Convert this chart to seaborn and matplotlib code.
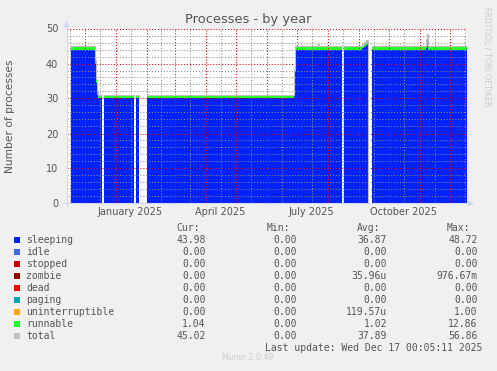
import numpy as np
import pandas as pd
import matplotlib
matplotlib.use('Agg')
import matplotlib.pyplot as plt
from matplotlib.lines import Line2D
from matplotlib.patches import Polygon, Rectangle
import seaborn as sns

# step samples: each value holds until the next date, NaN = no data
dates = ['2024-11-17', '2024-12-11', '2024-12-12', '2024-12-13', '2024-12-14',
         '2024-12-18', '2024-12-20', '2025-01-19', '2025-01-21', '2025-01-24',
         '2025-02-01', '2025-06-28', '2025-06-29', '2025-07-22', '2025-07-23',
         '2025-08-15', '2025-08-17', '2025-09-04', '2025-09-06', '2025-09-08',
         '2025-09-10', '2025-09-11', '2025-09-14', '2025-11-07', '2025-11-08',
         '2025-11-09']
end_date = '2025-12-18'
nan = np.nan
sleeping = [44.0, 40.0, 34.5, 31.0, 30.0,
            nan, 30.0, nan, 30.0, nan,
            30.0, 37.0, 44.0, 44.0, 44.0,
            nan, 44.0, 44.3, 44.8, 45.2,
            0.0, nan, 44.0, 44.5, 45.0,
            44.0]
runnable = [1.1, 1.1, 1.1, 1.1, 1.1,
            nan, 1.1, nan, 1.1, nan,
            1.1, 1.1, 1.1, 1.5, 1.1,
            nan, 1.1, 1.2, 1.3, 1.4,
            0.0, nan, 1.1, 2.0, 3.0,
            1.1]
total = [45.1, 41.1, 35.6, 32.1, 31.1,
         nan, 31.1, nan, 31.1, nan,
         31.1, 38.1, 45.1, 45.5, 45.1,
         nan, 45.1, 45.5, 46.1, 46.6,
         0.0, nan, 45.1, 47.0, 48.5,
         45.1]

x_start, x_end = '2024-11-13', '2025-12-18'
grid_major = ['2024-12-01', '2025-01-01', '2025-02-01', '2025-03-01', '2025-04-01',
              '2025-05-01', '2025-06-01', '2025-07-01', '2025-08-01', '2025-09-01',
              '2025-10-01', '2025-11-01', '2025-12-01']
grid_minor = ['2024-11-16', '2024-12-16', '2025-01-16', '2025-02-15', '2025-03-16',
              '2025-04-16', '2025-05-16', '2025-06-16', '2025-07-16', '2025-08-16',
              '2025-09-16', '2025-10-16', '2025-11-16', '2025-12-16']
month_label_dates = ['2025-01-16', '2025-04-16', '2025-07-16', '2025-10-16']
month_labels = ['January 2025', 'April 2025', 'July 2025', 'October 2025']

names = ['sleeping', 'idle', 'stopped', 'zombie', 'dead', 'paging',
         'uninterruptible', 'runnable', 'total']
colors = ['#0022ff', '#4169e1', '#cc0000', '#990000', '#ff0000', '#00aaaa',
          '#ffa500', '#22ff22', '#c0c0c0']
cur = ['43.98', '0.00', '0.00', '0.00', '0.00', '0.00', '0.00', '1.04', '45.02']
mins = ['0.00'] * 9
avgs = ['36.87', '0.00', '0.00', '35.96u', '0.00', '0.00', '119.57u', '1.02', '37.89']
maxs = ['48.72', '0.00', '0.00', '976.67m', '0.00', '0.00', '1.00', '12.86', '56.86']


def steps(vals):
    t = pd.to_datetime(dates + [end_date])
    xs = np.repeat(t.values, 2)[1:-1]
    ys = np.repeat(np.asarray(vals, dtype=float), 2)
    return xs, ys


sns.set_style('white')
plt.rcParams['font.family'] = ['DejaVu Sans']

W, H = 497, 371
fig = plt.figure(figsize=(W / 100, H / 100), dpi=100, facecolor='#F0F0F0')
ax = fig.add_axes([66.5 / W, 1 - 203.5 / H, 400 / W, 175 / H])
ax.set_facecolor('#FFFFFF')

xs, s_y = steps(sleeping)
_, r_y = steps(runnable)
_, t_y = steps(total)
ax.fill_between(xs, 0, s_y, color=colors[0], lw=0, zorder=2)
ax.fill_between(xs, s_y, s_y + r_y, color=colors[7], lw=0, zorder=2)
ax.plot(xs, t_y, color=colors[8], lw=0.8, zorder=3)

ax.set_xlim(pd.Timestamp(x_start), pd.Timestamp(x_end))
ax.set_ylim(0, 50)

ax.set_xticks(pd.to_datetime(grid_major))
ax.set_xticks(pd.to_datetime(grid_minor), minor=True)
ax.set_xticklabels([])
ax.set_yticks(range(0, 51, 10))
ax.set_yticks(range(2, 50, 2), minor=True)
ax.set_yticklabels([str(v) for v in range(0, 51, 10)], fontsize=7, color='#555555')

red = (0.9, 0.0, 0.0, 0.25)
gray = (0.55, 0.55, 0.55, 0.3)
ax.grid(True, which='major', color=red, linestyle=(0, (1, 1.8)), lw=0.75, zorder=4)
ax.grid(True, which='minor', color=gray, linestyle=(0, (1, 1.8)), lw=0.75, zorder=4)
ax.set_axisbelow(False)
ax.tick_params(which='major', length=3, width=0.75, color=red, pad=3)
ax.tick_params(which='minor', length=3, width=0.75, color=gray)

for d, lab in zip(month_label_dates, month_labels):
    ax.text(pd.Timestamp(d), -0.05, lab, transform=ax.get_xaxis_transform(),
            ha='center', va='center', fontsize=7, color='#555555')

for sp in ax.spines.values():
    sp.set_visible(False)


def fx(x):
    return x / W


def fy(y):
    return 1 - y / H


axis_c = '#CFD6F8'
fig.add_artist(Line2D([fx(66.5), fx(66.5)], [fy(206), fy(26)], color=axis_c, lw=0.8))
fig.add_artist(Line2D([fx(63), fx(468)], [fy(203.5), fy(203.5)], color=axis_c, lw=0.8))
fig.add_artist(Polygon([[fx(63.5), fy(27)], [fx(69.5), fy(27)], [fx(66.5), fy(21)]],
                       closed=True, color=axis_c, lw=0))
fig.add_artist(Polygon([[fx(468), fy(200.5)], [fx(468), fy(206.5)], [fx(474), fy(203.5)]],
                       closed=True, color=axis_c, lw=0))

fig.text(fx(248.5), fy(19), 'Processes - by year', ha='center', va='center',
         fontsize=9.4, color='#555555')
fig.text(fx(10), fy(116), 'Number of processes', ha='center', va='center',
         rotation=90, fontsize=7.7, color='#555555')
fig.text(fx(487), fy(56), 'RRDTOOL / TOBI OETIKER', ha='center', va='center',
         rotation=270, fontsize=5.7, color='#cccccc')

mono = dict(family='DejaVu Sans Mono', fontsize=7, color='#555555', va='center')
for hx, h in zip([176, 267, 357, 447], ['Cur:', 'Min:', 'Avg:', 'Max:']):
    fig.text(fx(hx), fy(228.3), h, ha='left', **mono)
for i, name in enumerate(names):
    y = 239.7 + 12 * i
    fig.add_artist(Rectangle((fx(14), fy(y + 3)), 6 / W, 6 / H, color=colors[i], lw=0))
    fig.text(fx(26), fy(y), name, ha='left', **mono)
    for rx, col in zip([205.5, 297, 387, 477.5], [cur, mins, avgs, maxs]):
        fig.text(fx(rx), fy(y), col[i], ha='right', **mono)
fig.text(fx(482), fy(347.7), 'Last update: Wed Dec 17 00:05:11 2025', ha='right', **mono)
fig.text(fx(248), fy(358), 'Munin 2.0.49', ha='center', va='center',
         fontsize=5.7, color='#cccccc')

fig.savefig('out.png', dpi=100, facecolor=fig.get_facecolor())
